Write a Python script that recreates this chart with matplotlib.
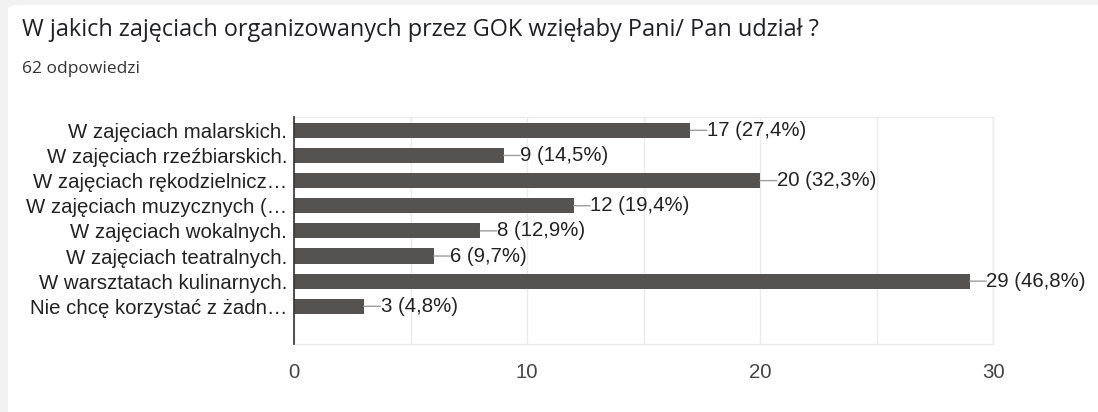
import matplotlib
matplotlib.use("Agg")
import matplotlib.pyplot as plt
from matplotlib.patches import FancyBboxPatch

# ── Data ───────────────────────────────────────────────────────────
categories = [
    "W zajęciach malarskich.",
    "W zajęciach rzeźbiarskich.",
    "W zajęciach rękodzielnicz…",
    "W zajęciach muzycznych (…",
    "W zajęciach wokalnych.",
    "W zajęciach teatralnych.",
    "W warsztatach kulinarnych.",
    "Nie chcę korzystać z żadn…",
]
counts = [17, 9, 20, 12, 8, 6, 29, 3]
percents = ["27,4%", "14,5%", "32,3%", "19,4%", "12,9%", "9,7%", "46,8%", "4,8%"]
x_ticks = [0, 10, 20, 30]

TITLE = "W jakich zajęciach organizowanych przez GOK wzięłaby Pani/ Pan udział ?"
SUBTITLE = "62 odpowiedzi"

# ── Style ──────────────────────────────────────────────────────────
BAR = "#545352"
TEXT = "#222222"
GRID = "#ebebeb"
LEADER = "#9e9e9e"
LABEL_FONT = ["Liberation Sans", "DejaVu Sans"]
HEAD_FONT = ["Open Sans", "DejaVu Sans"]
FS = 14.7

fig = plt.figure(figsize=(10.98, 4.12), dpi=100)
fig.patch.set_facecolor("#f2f2f2")
card = FancyBboxPatch((8 / 1098, -0.05), 1.05, 1 - 5 / 412 + 0.05,
                      boxstyle="round,pad=0,rounding_size=0.01",
                      transform=fig.transFigure, facecolor="white",
                      edgecolor="none", zorder=-10)
fig.patches.append(card)

fig.text(22 / 1098, 1 - 30 / 412, TITLE, ha="left", va="center",
         fontsize=16.95, color="#202124", family=HEAD_FONT)
fig.text(22 / 1098, 1 - 69 / 412, SUBTITLE, ha="left", va="center",
         fontsize=12.5, color="#333333", family=HEAD_FONT)

ax = fig.add_axes([294 / 1098, 1 - 344 / 412, (993 - 294) / 1098, (344 - 117) / 412])
ax.set_facecolor("white")

ypos = list(range(len(categories)))
ax.barh(ypos, counts, height=0.6, color=BAR, zorder=3)

# leader line + value label for each bar
for y, c, p in zip(ypos, counts, percents):
    ax.annotate("", xy=(c, y), xytext=(12, 0), textcoords="offset points",
                xycoords="data",
                arrowprops=dict(arrowstyle="-", color=LEADER, lw=1,
                                shrinkA=0, shrinkB=0), zorder=4)
    ax.annotate(f"{c} ({p})", xy=(c, y), xytext=(12, 0), textcoords="offset points",
                ha="left", va="center", fontsize=FS, color=TEXT,
                family=LABEL_FONT, zorder=4)

ax.set_xlim(0, 30)
ax.set_ylim(8.5, -0.53)
ax.set_xticks(x_ticks)
ax.set_xticks([5, 15, 25], minor=True)
ax.set_yticks(ypos)
ax.set_yticklabels(categories, family=LABEL_FONT, fontsize=FS, color=TEXT)
ax.tick_params(axis="y", length=0, pad=5)
ax.tick_params(axis="x", which="both", length=0, pad=14, labelsize=FS,
               labelcolor="#444444")
for lab in ax.get_xticklabels():
    lab.set_family(LABEL_FONT)
ax.grid(axis="x", which="both", color=GRID, lw=1, zorder=0)

for side in ["top", "right", "bottom"]:
    ax.spines[side].set_color(GRID)
    ax.spines[side].set_linewidth(1)
ax.spines["left"].set_color("#333333")
ax.spines["left"].set_linewidth(1.2)
ax.spines["left"].set_zorder(5)

fig.savefig("out.png", dpi=100, facecolor=fig.get_facecolor())
plt.close(fig)
